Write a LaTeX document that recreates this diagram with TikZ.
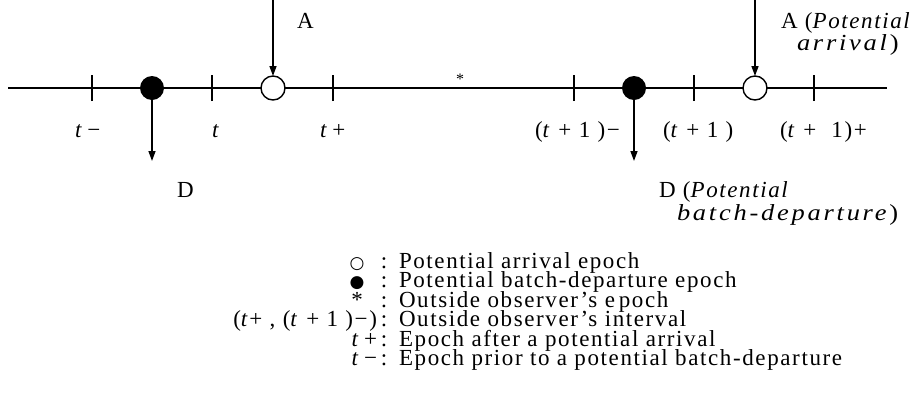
\documentclass[tikz,border=0pt]{standalone}
\usepackage{fontspec}
\setmainfont{Liberation Serif}[LetterSpace=7]
\newfontfamily\symfont{DejaVu Sans}
\usetikzlibrary{arrows.meta}
\lineskiplimit=-100pt
\lineskip=0pt
\begin{document}
\begin{tikzpicture}[x=1pt,y=-1pt,
  every node/.style={inner sep=0pt,outer sep=0pt,font=\fontsize{23}{20}\selectfont},
  axis/.style={line width=1.4pt},
  tickmark/.style={line width=1.4pt},
  opendot/.style={circle,draw,line width=1.4pt,minimum size=24pt,fill=white},
  filldot/.style={circle,fill=black,minimum size=24pt},
  arr/.style={line width=1.4pt,-{Triangle[length=10pt,width=7pt]}},
  lbl/.style={anchor=base west},
  legfont/.style={font=\fontsize{23}{19.5}\selectfont},
  wideit/.style={font=\fontsize{23}{20}\selectfont\addfontfeature{LetterSpace=12,FakeStretch=1.15}}
]
\useasboundingbox (0,0) rectangle (917,397);
% axis
\coordinate (L) at (8,88);
\coordinate (R) at (887,88);
\draw[axis] (L) -- (R);
% ticks
\foreach \n/\x in {t1/92,t2/212,t3/333,t4/574,t5/694,t6/814}{
  \coordinate (\n) at (\x,88);
  \draw[tickmark] ([yshift=-13pt]\n) -- ([yshift=13pt]\n);
}
% dots
\node[filldot] (d1) at (152,88) {};
\node[opendot] (a1) at (273,88) {};
\node[filldot] (d2) at (634,88) {};
\node[opendot] (a2) at (755,88) {};
% arrows
\coordinate (a1top) at (273,0);
\coordinate (a2top) at (755,0);
\coordinate (d1bot) at (152,161);
\coordinate (d2bot) at (634,161);
\draw[arr] (a1top) -- (a1.north);
\draw[arr] (a2top) -- (a2.north);
\draw[arr] (d1.south) -- (d1bot);
\draw[arr] (d2.south) -- (d2bot);
% star
\node (star) at (460,79) {\fontsize{16}{16}\selectfont *};
% arrow labels
\node[lbl] (lA1) at (297,28) {A};
\node[lbl] (lA2) at (781,28) {A (\textit{Potential}};
\node[lbl,wideit] (lA3) at (797,50) {\textit{arrival})};
\node[lbl] (lD1) at (177,197) {D};
\node[lbl] (lD2) at (659,197) {D (\textit{Potential}};
\node[lbl,wideit] (lD3) at (677,220) {\textit{batch-departure})};
% tick labels
\node[lbl] (k1) at (75,137) {\textit{t}\,−};
\node[lbl] (k2) at (212,137) {\textit{t}};
\node[lbl] (k3) at (320,137) {\textit{t}\,+};
\node[lbl] (k4) at (535,137) {(\textit{t} + 1 )−};
\node[lbl] (k5) at (663,137) {(\textit{t} + 1 )};
\node[lbl] (k6) at (780,137) {(\textit{t} +\,\, 1)+};
% legend (anchor base = baseline of the last line)
\node[legfont,align=right,anchor=base east] (legsym) at (377,365.5)
  {\makebox[40pt]{\symfont\fontsize{17}{17}\selectfont ○}\\
   \makebox[40pt]{\symfont\fontsize{17}{17}\selectfont ●}\\
   \makebox[40pt]{*}\\
   (\textit{t}+ , (\textit{t} + 1 )−)\\
   \textit{t}\,+\\
   \textit{t}\,−};
\node[legfont,align=center,anchor=base] (legcolon) at (384,365.5)
  {:\\:\\:\\:\\:\\:};
\node[legfont,align=left,anchor=base west] (legtext) at (399,365.5)
  {Potential arrival epoch\\
   Potential batch-departure epoch\\
   Outside observer’s e\,poch\\
   Outside observer’s interval\\
   Epoch after a potential arrival\\
   Epoch prior to a potential batch-departure};
\end{tikzpicture}
\end{document}
